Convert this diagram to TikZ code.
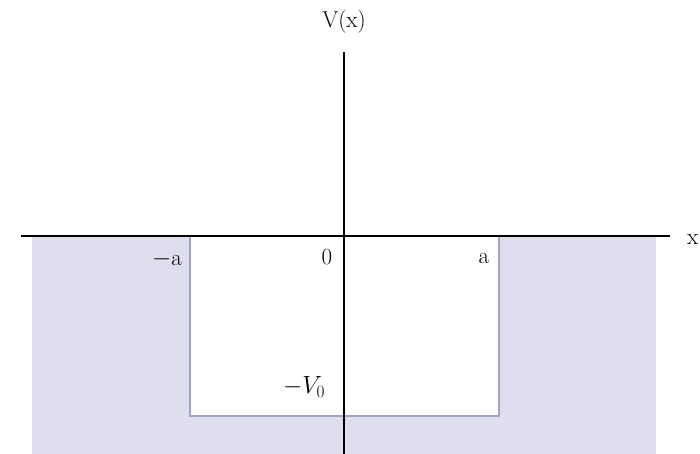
\documentclass[tikz,border=0pt]{standalone}
\definecolor{shadec}{RGB}{222,222,238}
\definecolor{wallc}{RGB}{165,165,195}
\begin{document}
\begin{tikzpicture}[x=1pt,y=-1pt,
  axis/.style={line width=2.4pt,black},
  wall/.style={draw=wallc,line width=1.6pt},
  lab/.style={font=\fontsize{23}{27}\selectfont, inner sep=0pt}]
\useasboundingbox (0,0) rectangle (700,454);
% shaded region outside the well
\fill[shadec] (32,237) rectangle (656,454);
% the well
\coordinate (wtl) at (190,236);
\coordinate (wbl) at (190,416);
\coordinate (wbr) at (499,416);
\coordinate (wtr) at (499,236);
\filldraw[fill=white, wall] (wtl) -- (wbl) -- (wbr) -- (wtr);
% axes
\coordinate (xa) at (21,236);
\coordinate (xb) at (670,236);
\coordinate (ya) at (344,52);
\coordinate (yb) at (344,454);
\draw[axis] (xa) -- (xb);
\draw[axis] (ya) -- (yb);
% labels
\node[lab] (vx) at (344,22) {V(x)};
\node[lab, anchor=west] (xl) at (687,240) {x};
\node[lab] (ma) at (167,259) {$-$a};
\node[lab] (zero) at (327,257) {0};
\node[lab] (pa) at (484,259) {a};
\node[lab] (mv) at (304,387) {$-V_0$};
\end{tikzpicture}
\end{document}
